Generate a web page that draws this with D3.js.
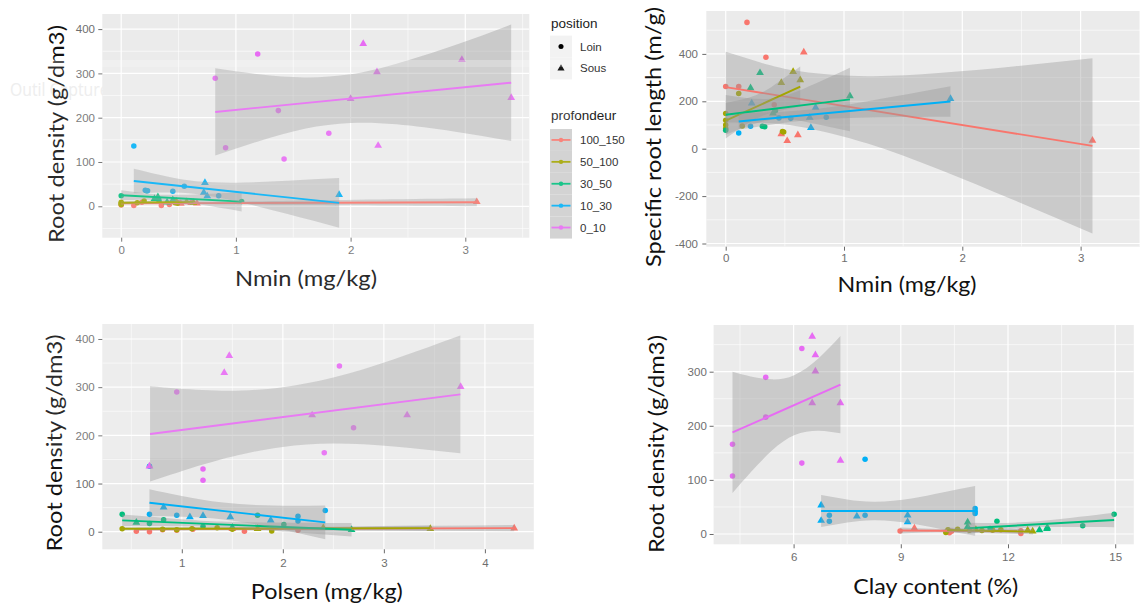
<!DOCTYPE html>
<html><head><meta charset="utf-8">
<script src="https://cdn.jsdelivr.net/npm/d3@7"></script>
<style>html,body{margin:0;padding:0;background:#fff;} svg{display:block;}</style>
</head><body>
<svg id="chart" width="1140" height="608"></svg>
<script>
// ---------- shared categories ----------
const depths = ["100_150", "50_100", "30_50", "10_30", "0_10"];
const depthColors = ["#F8766D", "#A3A500", "#00BF7D", "#00B0F6", "#E76BF3"];
const positions = ["Loin", "Sous"];

// ---------- Panel 1 : Nmin vs Root density ----------
const p1XTicks = [0, 1, 2, 3];
const p1YTicks = [0, 100, 200, 300, 400];
const p1Points = [
  [0,3,"100_150","Loin"],[0.11,2,"100_150","Loin"],[0.18,9,"100_150","Loin"],[0.35,2,"100_150","Loin"],[0.42,4,"100_150","Loin"],[0.50,8,"100_150","Loin"],
  [0.52,6,"100_150","Sous"],[0.61,8,"100_150","Sous"],[0.66,7,"100_150","Sous"],[3.10,10,"100_150","Sous"],
  [0,9,"50_100","Loin"],[0,6,"50_100","Loin"],[0,4,"50_100","Loin"],[0.14,8,"50_100","Loin"],[0.20,12,"50_100","Loin"],[0.47,8,"50_100","Loin"],[0.49,7,"50_100","Loin"],
  [0.48,11,"50_100","Sous"],[0.57,10,"50_100","Sous"],[0.63,8,"50_100","Sous"],
  [0,24,"30_50","Loin"],[0.22,35,"30_50","Loin"],[0.33,12,"30_50","Loin"],[1.05,11,"30_50","Loin"],
  [0.32,21,"30_50","Sous"],[0.40,9,"30_50","Sous"],[0.45,14,"30_50","Sous"],[0.29,17,"30_50","Sous"],
  [0.11,136,"10_30","Loin"],[0.21,36,"10_30","Loin"],[0.23,35,"10_30","Loin"],[0.45,34,"10_30","Loin"],[0.55,45,"10_30","Loin"],[0.85,24,"10_30","Loin"],
  [0.72,31,"10_30","Sous"],[0.73,53,"10_30","Sous"],[0.75,23,"10_30","Sous"],[1.90,26,"10_30","Sous"],
  [0.82,289,"0_10","Loin"],[0.91,132,"0_10","Loin"],[1.19,344,"0_10","Loin"],[1.37,216,"0_10","Loin"],[1.42,107,"0_10","Loin"],[1.81,165,"0_10","Loin"],
  [2.11,367,"0_10","Sous"],[2.23,303,"0_10","Sous"],[2.24,137,"0_10","Sous"],[2.97,331,"0_10","Sous"],[3.40,245,"0_10","Sous"],[2.00,243,"0_10","Sous"]
];
const p1Fits = [
  ["100_150", 0, 6.5, 3.10, 9], ["50_100", 0, 8, 0.63, 10], ["30_50", 0, 25, 1.05, 10.5],
  ["10_30", 0.11, 57, 1.90, 7.6], ["0_10", 0.82, 213, 3.40, 279]
];
const p1Bands = [
  ["100_150", [[0,4,9],[0.5,4.9,8.9],[1.5,2.7,12.7],[3.1,0,18]]],
  ["50_100", [[0,5,11],[0.3,6.5,12.5],[0.63,3,17]]],
  ["30_50", [[0,14,36],[0.2,14.7,29.7],[0.4,13,26],[0.7,3.3,27.3],[1.05,-11.5,32.5]]],
  ["10_30", [[0.11,29.5,84.5],[0.4,31,67],[0.65,27.6,56.6],[1.0,11.4,53.4],[1.45,-17.5,57.5],[1.9,-48.4,63.6]]],
  ["0_10", [[0.82,114.5,311.5],[1.2,147,298],[1.6,175,291],[2.0,188,298],[2.4,185,322],[2.9,169,363],[3.4,147.5,410.5]]]
];

// ---------- Panel 2 : Nmin vs Specific root length ----------
const p2XTicks = [0, 1, 2, 3];
const p2YTicks = [-400, -200, 0, 200, 400];
const p2Points = [
  [0,262,"100_150","Loin"],[0.11,262,"100_150","Loin"],[0.18,533,"100_150","Loin"],[0.34,386,"100_150","Loin"],[0.41,185,"100_150","Loin"],
  [0.66,407,"100_150","Sous"],[0.47,62,"100_150","Sous"],[0.52,33,"100_150","Sous"],[0.61,58,"100_150","Sous"],[3.10,35,"100_150","Sous"],
  [0,148,"50_100","Loin"],[0,120,"50_100","Loin"],[0,100,"50_100","Loin"],[0,85,"50_100","Loin"],[0.11,233,"50_100","Loin"],[0.14,96,"50_100","Loin"],[0.48,73,"50_100","Loin"],[0.49,70,"50_100","Loin"],
  [0.47,278,"50_100","Sous"],[0.57,325,"50_100","Sous"],[0.63,290,"50_100","Sous"],
  [0,78,"30_50","Loin"],[0.31,95,"30_50","Loin"],[0.33,93,"30_50","Loin"],[0.42,160,"30_50","Loin"],
  [0.21,256,"30_50","Sous"],[0.29,320,"30_50","Sous"],[0.40,150,"30_50","Sous"],[1.05,222,"30_50","Sous"],
  [0.11,66,"10_30","Loin"],[0.21,95,"10_30","Loin"],[0.45,130,"10_30","Loin"],[0.55,128,"10_30","Loin"],[0.85,133,"10_30","Loin"],
  [0.22,192,"10_30","Sous"],[0.72,88,"10_30","Sous"],[0.71,132,"10_30","Sous"],[0.76,174,"10_30","Sous"],[1.90,211,"10_30","Sous"]
];
const p2Fits = [
  ["100_150", 0, 260, 3.10, 12], ["50_100", 0, 118, 0.63, 262],
  ["30_50", 0, 143, 1.05, 208], ["10_30", 0.11, 115, 1.90, 199]
];
const p2Bands = [
  ["100_150", [[0,111,409],[0.3,109,363],[0.64,92,326],[1.2,22,306],[1.8,-87,319],[2.45,-220,348],[3.1,-358,382]]],
  ["50_100", [[0,43,193],[0.26,127,227],[0.45,159,283],[0.63,177,347]]],
  ["30_50", [[0,59,227],[0.376,121,211],[0.7,111,262],[1.05,74,342]]],
  ["10_30", [[0.11,81,149],[0.65,118,162],[1.2,132,200],[1.9,135,263]]]
];

// ---------- Panel 3 : Polsen vs Root density ----------
const p3XTicks = [1, 2, 3, 4];
const p3YTicks = [0, 100, 200, 300, 400];
const p3Points = [
  [0.55,1,"100_150","Loin"],[0.68,0,"100_150","Loin"],[0.81,4,"100_150","Loin"],[0.95,3,"100_150","Loin"],[1.11,5,"100_150","Loin"],[1.62,1,"100_150","Loin"],[2.15,3,"100_150","Loin"],
  [1.50,6,"100_150","Sous"],[4.29,7,"100_150","Sous"],
  [0.41,6,"50_100","Loin"],[0.81,5,"50_100","Loin"],[0.95,4,"50_100","Loin"],[1.10,6,"50_100","Loin"],[1.35,8,"50_100","Loin"],[1.50,5,"50_100","Loin"],[1.89,1.5,"50_100","Loin"],
  [2.40,8,"50_100","Sous"],[3.46,6,"50_100","Sous"],[1.75,6,"50_100","Sous"],
  [0.41,36,"30_50","Loin"],[0.68,17,"30_50","Loin"],[0.82,25,"30_50","Loin"],[1.21,11,"30_50","Loin"],[1.75,34,"30_50","Loin"],[2.01,15,"30_50","Loin"],
  [0.55,19,"30_50","Sous"],[1.50,9,"30_50","Sous"],[2.68,4,"30_50","Sous"],
  [0.68,36,"10_30","Loin"],[0.95,34,"10_30","Loin"],[2.15,32,"10_30","Loin"],[2.15,22,"10_30","Loin"],[2.42,44,"10_30","Loin"],[0.68,136,"10_30","Loin"],
  [0.82,51,"10_30","Sous"],[1.08,30.5,"10_30","Sous"],[1.21,33,"10_30","Sous"],[1.48,30.5,"10_30","Sous"],[1.88,24,"10_30","Sous"],
  [0.95,290,"0_10","Loin"],[2.56,344,"0_10","Loin"],[2.70,216,"0_10","Loin"],[2.41,164,"0_10","Loin"],[1.21,130,"0_10","Loin"],[1.21,107,"0_10","Loin"],
  [1.47,365,"0_10","Sous"],[1.42,330,"0_10","Sous"],[3.76,301,"0_10","Sous"],[2.29,242,"0_10","Sous"],[3.23,242,"0_10","Sous"],[0.68,136,"0_10","Sous"]
];
const p3Fits = [
  ["100_150", 0.55, 5, 4.29, 7.5], ["50_100", 0.41, 6, 3.46, 7.5], ["30_50", 0.41, 23.6, 2.68, 4],
  ["10_30", 0.68, 60, 2.42, 19.4], ["0_10", 0.686, 202.8, 3.757, 285]
];
const p3Bands = [
  ["100_150", [[0.55,2,8],[1.5,2.8,8.4],[2.8,2.5,10.5],[4.29,1,14]]],
  ["50_100", [[0.41,3,9],[1.5,4.5,8.9],[2.5,3.5,10.5],[3.46,1.5,13.5]]],
  ["30_50", [[0.41,11.6,35.6],[0.9,11.4,27.4],[1.3,9.9,21.9],[1.9,2.2,19.2],[2.68,-10,18]]],
  ["10_30", [[0.68,32,88],[1.0,31,74],[1.41,25.6,60.4],[1.9,8.7,54.3],[2.42,-15.6,54.4]]],
  ["0_10", [[0.686,104,302],[1.2,139,294],[1.6,161,293],[2.0,176,300],[2.5,183,320],[3.1,177,358],[3.757,163,407]]]
];

// ---------- Panel 4 : Clay content vs Root density ----------
const p4XTicks = [6, 9, 12, 15];
const p4YTicks = [0, 100, 200, 300];
const p4Points = [
  [8.98,5.6,"100_150","Loin"],[10.36,2.5,"100_150","Loin"],[10.42,5,"100_150","Loin"],[12.36,6.2,"100_150","Loin"],[12.36,1,"100_150","Loin"],
  [9.38,10.5,"100_150","Sous"],
  [10.26,3,"50_100","Loin"],[10.32,8,"50_100","Loin"],[10.59,8.6,"50_100","Loin"],[10.92,7,"50_100","Loin"],[11.27,6.5,"50_100","Loin"],[11.57,7,"50_100","Loin"],[11.80,8,"50_100","Loin"],
  [11.10,8,"50_100","Sous"],[12.55,7,"50_100","Sous"],[12.69,5,"50_100","Sous"],
  [11.69,23.5,"30_50","Loin"],[14.09,15.4,"30_50","Loin"],[14.97,36.4,"30_50","Loin"],[11.50,10,"30_50","Loin"],
  [10.87,21.6,"30_50","Sous"],[10.87,13.6,"30_50","Sous"],[12.88,7.4,"30_50","Sous"],[13.09,9.9,"30_50","Sous"],[13.10,12,"30_50","Sous"],
  [7.0,34.6,"10_30","Loin"],[7.0,23.5,"10_30","Loin"],[8.0,34.6,"10_30","Loin"],[8.0,138,"10_30","Loin"],[11.08,47,"10_30","Loin"],[11.08,42,"10_30","Loin"],[11.08,38,"10_30","Loin"],
  [6.77,53,"10_30","Sous"],[6.77,24.7,"10_30","Sous"],[7.77,32.7,"10_30","Sous"],[9.19,34.6,"10_30","Sous"],[9.19,22,"10_30","Sous"],
  [4.29,166,"0_10","Loin"],[4.29,107,"0_10","Loin"],[5.22,289.5,"0_10","Loin"],[5.22,216,"0_10","Loin"],[6.23,343,"0_10","Loin"],[6.23,131,"0_10","Loin"],
  [6.52,365,"0_10","Sous"],[6.61,331,"0_10","Sous"],[6.61,301,"0_10","Sous"],[6.52,242,"0_10","Sous"],[7.31,242,"0_10","Sous"],[7.31,136,"0_10","Sous"]
];
const p4Fits = [
  ["100_150", 8.98, 6.5, 12.4, 5], ["50_100", 10.3, 7.4, 12.7, 4.3], ["30_50", 10.87, 10.5, 14.97, 26],
  ["10_30", 6.77, 42.6, 11.08, 42.6], ["0_10", 4.29, 187.7, 7.31, 276]
];
const p4Bands = [
  ["100_150", [[8.98,1,12],[10.5,3,9],[12.4,0,10]]],
  ["50_100", [[10.3,3,11.8],[11.4,3.5,8.5],[12.7,-1,9.6]]],
  ["30_50", [[10.87,0,21],[12.2,10,21],[13.2,12.8,25.8],[14.0,12.8,31.8],[14.97,12.5,39.5]]],
  ["10_30", [[6.77,13,72.2],[7.5,21.4,63.8],[8.3,25.6,59.6],[9.3,19.4,65.8],[10.2,8,77.2],[11.08,-3.4,88.6]]],
  ["0_10", [[4.29,75.7,299.7],[4.8,114,291],[5.4,154.6,285.8],[6.03,183,294],[6.7,191,325],[7.31,186,366]]]
];

// ---------- layout (positions / sizes) ----------
const panels = [
  { id:"p1", pts:p1Points, fits:p1Fits, bands:p1Bands, xTicks:p1XTicks, yTicks:p1YTicks,
    xMinor:[0.5,1.5,2.5,3.5], yMinor:[-50,50,150,250,350],
    box:{l:102.3,r:529.3,t:14,b:237.7}, xDomain:[-0.1648,3.558], yDomain:[-70.9,434.1],
    yPad:3.3, xPad:4.2, xTitle:"Nmin (mg/kg)", xT:[306,277,142], yTitle:"Root density (g/dm3)", yT:[55,134,218] },
  { id:"p2", pts:p2Points, fits:p2Fits, bands:p2Bands, xTicks:p2XTicks, yTicks:p2YTicks,
    xMinor:[0.5,1.5,2.5,3.5], yMinor:[-300,-100,100,300,500],
    box:{l:706.3,r:1140,t:11,b:246.7}, xDomain:[-0.164,3.502], yDomain:[-413.5,581],
    yPad:4.3, xPad:3.6, xTitle:"Nmin (mg/kg)", xT:[907,283,139], yTitle:"Specific root length (m/g)", yT:[652.6,137,260] },
  { id:"p3", pts:p3Points, fits:p3Fits, bands:p3Bands, xTicks:p3XTicks, yTicks:p3YTicks,
    xMinor:[0.5,1.5,2.5,3.5], yMinor:[50,150,250,350],
    box:{l:102.3,r:533.8,t:324,b:549.3}, xDomain:[0.2131,4.484], yDomain:[-36.5,431.1],
    yPad:3.6, xPad:5.9, xTitle:"Polsen (mg/kg)", xT:[326.8,590,152], yTitle:"Root density (g/dm3)", yT:[53.4,443,217] },
  { id:"p4", pts:p4Points, fits:p4Fits, bands:p4Bands, xTicks:p4XTicks, yTicks:p4YTicks,
    xMinor:[4.5,7.5,10.5,13.5], yMinor:[50,150,250,350],
    box:{l:713.6,r:1133.8,t:325,b:544.3}, xDomain:[3.761,15.52], yDomain:[-19.04,386.3],
    yPad:2.8, xPad:4.9, xTitle:"Clay content (%)", xT:[935.8,585,165], yTitle:"Root density (g/dm3)", yT:[655,444,218] }
];

const svg = d3.select("#chart");
svg.append("rect").attr("width",1140).attr("height",608).attr("fill","#fff");
const color = d3.scaleOrdinal().domain(depths).range(depthColors);
const shape = d3.scaleOrdinal().domain(positions).range([d3.symbolCircle, d3.symbolTriangle]);
const symSize = {Loin: 24, Sous: 26};
const tickFont = "'Liberation Sans', Arial, sans-serif";
const titleFont = "Lato, 'Open Sans', sans-serif";
const fmt = d => String(d);

function drawPanel(cfg) {
  const x = d3.scaleLinear().domain(cfg.xDomain).range([cfg.box.l, cfg.box.r]);
  const y = d3.scaleLinear().domain(cfg.yDomain).range([cfg.box.b, cfg.box.t]);
  const g = svg.append("g");
  const clipId = "clip-" + cfg.id;
  svg.append("clipPath").attr("id", clipId).append("rect")
    .attr("x", cfg.box.l).attr("y", cfg.box.t)
    .attr("width", cfg.box.r - cfg.box.l).attr("height", cfg.box.b - cfg.box.t);
  g.append("rect").attr("x", cfg.box.l).attr("y", cfg.box.t)
    .attr("width", cfg.box.r - cfg.box.l).attr("height", cfg.box.b - cfg.box.t).attr("fill", "#EBEBEB");
  const grid = g.append("g").attr("clip-path", `url(#${clipId})`);
  grid.append("g").selectAll("line").data(cfg.xMinor).join("line")
    .attr("x1", d => x(d)).attr("x2", d => x(d)).attr("y1", cfg.box.t).attr("y2", cfg.box.b)
    .attr("stroke", "#fff").attr("stroke-width", 0.6);
  grid.append("g").selectAll("line").data(cfg.yMinor).join("line")
    .attr("y1", d => y(d)).attr("y2", d => y(d)).attr("x1", cfg.box.l).attr("x2", cfg.box.r)
    .attr("stroke", "#fff").attr("stroke-width", 0.6);
  grid.append("g").selectAll("line").data(cfg.xTicks).join("line")
    .attr("x1", d => x(d)).attr("x2", d => x(d)).attr("y1", cfg.box.t).attr("y2", cfg.box.b)
    .attr("stroke", "#fff").attr("stroke-width", 1.2);
  grid.append("g").selectAll("line").data(cfg.yTicks).join("line")
    .attr("y1", d => y(d)).attr("y2", d => y(d)).attr("x1", cfg.box.l).attr("x2", cfg.box.r)
    .attr("stroke", "#fff").attr("stroke-width", 1.2);

  const plot = g.append("g").attr("clip-path", `url(#${clipId})`);
  plot.selectAll("path.pt").data(cfg.pts).join("path").attr("class", "pt")
    .attr("transform", d => `translate(${x(d[0])},${y(d[1])})`)
    .attr("d", d => d3.symbol(shape(d[3]), symSize[d[3]])())
    .attr("fill", d => color(d[2]));

  const area = d3.area().x(d => x(d[0])).y0(d => y(d[1])).y1(d => y(d[2])).curve(d3.curveNatural);
  const line = d3.line().x(d => x(d[0])).y(d => y(d[1]));
  depths.forEach(dep => {
    const b = cfg.bands.find(e => e[0] === dep);
    if (b) plot.append("path").attr("d", area(b[1])).attr("fill", "#999999").attr("fill-opacity", 0.4);
    const f = cfg.fits.find(e => e[0] === dep);
    if (f) plot.append("path").attr("d", line([[f[1], f[2]], [f[3], f[4]]]))
      .attr("stroke", color(dep)).attr("stroke-width", 1.9).attr("fill", "none");
  });

  const yAxis = g.append("g").attr("transform", `translate(${cfg.box.l},0)`)
    .call(d3.axisLeft(y).tickValues(cfg.yTicks).tickFormat(fmt).tickSizeInner(4).tickSizeOuter(0).tickPadding(cfg.yPad));
  const xAxis = g.append("g").attr("transform", `translate(0,${cfg.box.b})`)
    .call(d3.axisBottom(x).tickValues(cfg.xTicks).tickFormat(fmt).tickSizeInner(4).tickSizeOuter(0).tickPadding(cfg.xPad));
  [yAxis, xAxis].forEach(a => {
    a.select(".domain").remove();
    a.selectAll(".tick line").attr("stroke", "#6a6a6a").attr("stroke-width", 1);
    a.selectAll(".tick text").attr("fill", "#6e6e6e").attr("font-size", 11.5).attr("font-family", tickFont);
  });

  g.append("text").text(cfg.xTitle)
    .attr("x", cfg.xT[0]).attr("y", cfg.xT[1]).attr("text-anchor", "middle").attr("dominant-baseline", "central")
    .attr("font-family", titleFont).attr("font-size", 22).attr("fill", "#111")
    .attr("textLength", cfg.xT[2]).attr("lengthAdjust", "spacingAndGlyphs");
  g.append("text").text(cfg.yTitle)
    .attr("transform", `translate(${cfg.yT[0]},${cfg.yT[1]}) rotate(-90)`)
    .attr("text-anchor", "middle").attr("dominant-baseline", "central")
    .attr("font-family", titleFont).attr("font-size", 22).attr("fill", "#111")
    .attr("textLength", cfg.yT[2]).attr("lengthAdjust", "spacingAndGlyphs");
}

// faint screenshot-tool overlay seen in the picture (drawn beneath the titles)
function drawOverlayBack() {
  const ov = svg.append("g");
  ov.append("text").text("Outil Capture d'écran").attr("x", 10).attr("y", 89).attr("dominant-baseline", "central")
    .attr("font-family", "'Open Sans', sans-serif").attr("font-size", 19).attr("fill", "#ececec")
    .attr("textLength", 157).attr("lengthAdjust", "spacingAndGlyphs");
}
drawOverlayBack();
panels.forEach(drawPanel);

// ---------- legend ----------
const leg = svg.append("g");
const legX = 550, keyW = 22, keyH = 21.9;
leg.append("text").text("position").attr("x", 551).attr("y", 23.3).attr("dominant-baseline", "central")
  .attr("font-family", tickFont).attr("font-size", 13.5).attr("fill", "#222");
positions.forEach((p, i) => {
  const cy = 35.6 + keyH * i;
  leg.append("rect").attr("x", legX).attr("y", cy).attr("width", keyW).attr("height", keyH).attr("fill", "#F2F2F2");
  leg.append("path").attr("transform", `translate(${legX + keyW / 2},${cy + keyH / 2})`)
    .attr("d", d3.symbol(shape(p), symSize[p] - 4)()).attr("fill", "#000");
  leg.append("text").text(p).attr("x", 580).attr("y", cy + keyH / 2).attr("dominant-baseline", "central")
    .attr("font-family", tickFont).attr("font-size", 11.5).attr("fill", "#333");
});
leg.append("text").text("profondeur").attr("x", 551).attr("y", 115.7).attr("dominant-baseline", "central")
  .attr("font-family", tickFont).attr("font-size", 13.5).attr("fill", "#222");
depths.forEach((d, i) => {
  const cy = 129 + keyH * i;
  leg.append("rect").attr("x", legX).attr("y", cy).attr("width", keyW).attr("height", keyH).attr("fill", "#F2F2F2");
  leg.append("rect").attr("x", legX).attr("y", cy).attr("width", keyW).attr("height", keyH).attr("fill", "#999").attr("fill-opacity", 0.4);
  leg.append("line").attr("x1", legX + 1.5).attr("x2", legX + keyW - 1.5).attr("y1", cy + keyH / 2).attr("y2", cy + keyH / 2)
    .attr("stroke", color(d)).attr("stroke-width", 1.8);
  leg.append("circle").attr("cx", legX + keyW / 2).attr("cy", cy + keyH / 2).attr("r", 2.2).attr("fill", color(d));
  leg.append("text").text(d).attr("x", 580).attr("y", cy + keyH / 2).attr("dominant-baseline", "central")
    .attr("font-family", tickFont).attr("font-size", 11.5).attr("fill", "#333");
});

// translucent window of the overlay
const ovf = svg.append("g");
ovf.append("rect").attr("x", 10).attr("y", 60).attr("width", 567).attr("height", 398).attr("fill", "#fff").attr("fill-opacity", 0.1);
ovf.append("rect").attr("x", 10).attr("y", 60).attr("width", 567).attr("height", 7).attr("fill", "#fff").attr("fill-opacity", 0.2);
</script>
</body></html>
